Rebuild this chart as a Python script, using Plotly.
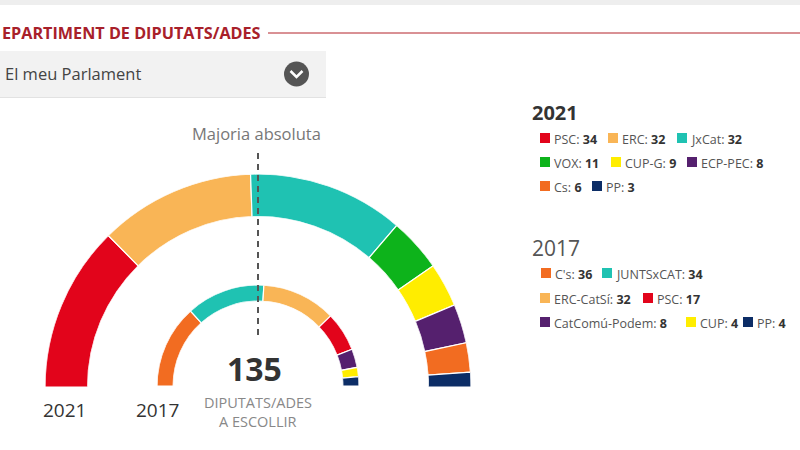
import plotly.graph_objects as go

# ---------------- data ----------------
parties_2021 = ["PSC", "ERC", "JxCat", "VOX", "CUP-G", "ECP-PEC", "Cs", "PP"]
seats_2021 = [34, 32, 32, 11, 9, 8, 6, 3]
colors_2021 = ["#e2041b", "#f9b556", "#1fc2b2", "#0db31b", "#ffed00", "#55206e", "#f26c21", "#0c2d66"]

parties_2017 = ["C's", "JUNTSxCAT", "ERC-CatSí", "PSC", "CatComú-Podem", "CUP", "PP"]
seats_2017 = [36, 34, 32, 17, 8, 4, 4]
colors_2017 = ["#f26c21", "#1fc2b2", "#f9b556", "#e2041b", "#55206e", "#ffed00", "#0c2d66"]

total_seats = 135
year_labels = ["2021", "2017"]

# ---------------- layout helpers ----------------
W, H = 800, 450
FONT = "Open Sans"


def px(x):
    return x / W


def py(y):
    return 1 - y / H


def ring(seats, colors, names, subplot):
    widths = [s * 180.0 / total_seats for s in seats]
    thetas = []
    acc = 0.0
    for w in widths:
        thetas.append(acc + w / 2)
        acc += w
    return go.Barpolar(
        r=[1] * len(seats), theta=thetas, width=widths,
        marker=dict(color=colors, line=dict(color="white", width=1.2)),
        text=names, hoverinfo="text", subplot=subplot, showlegend=False,
    )


fig = go.Figure()
fig.add_trace(ring(seats_2021, colors_2021, parties_2021, "polar"))
fig.add_trace(ring(seats_2017, colors_2017, parties_2017, "polar2"))

polar_common = dict(
    sector=[0, 180],
    bgcolor="rgba(0,0,0,0)",
    angularaxis=dict(visible=False, rotation=180, direction="clockwise"),
    radialaxis=dict(visible=False, range=[0, 1]),
)

# outer ring: centre (258,387), R=213 ; inner ring: centre (258,386), R=101
fig.update_layout(
    polar=dict(domain=dict(x=[px(45), px(471)], y=[py(387), py(174)]), hole=0.80, **polar_common),
    polar2=dict(domain=dict(x=[px(157), px(359)], y=[py(386), py(285)]), hole=0.84, **polar_common),
)

shapes = []
annotations = []

# top grey band
shapes.append(dict(type="rect", xref="paper", yref="paper", x0=0, x1=1, y0=py(5), y1=1,
                   fillcolor="#eeeeee", line=dict(width=0), layer="below"))
# header line
shapes.append(dict(type="line", xref="paper", yref="paper", x0=px(268), x1=1, y0=py(33), y1=py(33),
                   line=dict(color="#b3232b", width=1)))
annotations.append(dict(text="<b>EPARTIMENT DE DIPUTATS/ADES</b>", x=px(263), y=py(33), xref="paper", yref="paper",
                        xanchor="right", yanchor="middle", showarrow=False,
                        font=dict(family=FONT, size=16.2, color="#a8202a")))
# dropdown box
shapes.append(dict(type="rect", xref="paper", yref="paper", x0=0, x1=px(326), y0=py(97), y1=py(51),
                   fillcolor="#f2f2f2", line=dict(width=0), layer="below"))
shapes.append(dict(type="line", xref="paper", yref="paper", x0=0, x1=px(326), y0=py(97.5), y1=py(97.5),
                   line=dict(color="#e2e2e2", width=1)))
annotations.append(dict(text="El meu Parlament", x=px(3), y=py(74), xref="paper", yref="paper",
                        xanchor="left", yanchor="middle", showarrow=False,
                        font=dict(family=FONT, size=16.5, color="#444444")))
shapes.append(dict(type="circle", xref="paper", yref="paper", x0=px(284), x1=px(309), y0=py(86.5), y1=py(61.5),
                   fillcolor="#555555", line=dict(width=0)))
shapes.append(dict(type="path", xref="paper", yref="paper",
                   path=f"M {px(290.5)} {py(71)} L {px(296.5)} {py(77)} L {px(302.5)} {py(71)}",
                   line=dict(color="white", width=2.5)))

# majority line
shapes.append(dict(type="line", xref="paper", yref="paper", x0=px(258), x1=px(258), y0=py(335), y1=py(148),
                   line=dict(color="#555555", width=2, dash="6px,5px")))
annotations.append(dict(text="Majoria absoluta", x=px(256), y=py(134), xref="paper", yref="paper",
                        xanchor="center", yanchor="middle", showarrow=False,
                        font=dict(family=FONT, size=16.5, color="#777777")))

# centre texts
annotations.append(dict(text=f"<b>{total_seats}</b>", x=px(255), y=py(368), xref="paper", yref="paper",
                        xanchor="center", yanchor="middle", showarrow=False,
                        font=dict(family=FONT, size=32, color="#333333")))
annotations.append(dict(text="DIPUTATS/ADES", x=px(258), y=py(402), xref="paper", yref="paper",
                        xanchor="center", yanchor="middle", showarrow=False,
                        font=dict(family=FONT, size=14.5, color="#888888")))
annotations.append(dict(text="A ESCOLLIR", x=px(258), y=py(421), xref="paper", yref="paper",
                        xanchor="center", yanchor="middle", showarrow=False,
                        font=dict(family=FONT, size=14.5, color="#888888")))
for lbl, xc in zip(year_labels, [64, 157]):
    annotations.append(dict(text=lbl, x=px(xc), y=py(410), xref="paper", yref="paper",
                            xanchor="center", yanchor="middle", showarrow=False,
                            font=dict(family=FONT, size=19, color="#333333")))

# legends
annotations.append(dict(text="<b>2021</b>", x=px(530), y=py(113), xref="paper", yref="paper",
                        xanchor="left", yanchor="middle", showarrow=False,
                        font=dict(family=FONT, size=20, color="#333333")))
annotations.append(dict(text="2017", x=px(530), y=py(248), xref="paper", yref="paper",
                        xanchor="left", yanchor="middle", showarrow=False,
                        font=dict(family=FONT, size=21, color="#555555")))

legend_pos_2021 = [(540, 139), (608, 139), (677, 139), (540, 163), (611, 163), (687, 163), (540, 187), (592, 187)]
legend_pos_2017 = [(541, 274), (602, 274), (540, 299), (643, 299), (540, 323), (686, 323), (743, 323)]


def legend_items(names, seats, colors, positions):
    for n, s, c, (x, y) in zip(names, seats, colors, positions):
        shapes.append(dict(type="rect", xref="paper", yref="paper", x0=px(x), x1=px(x + 10),
                           y0=py(y + 4), y1=py(y - 6), fillcolor=c, line=dict(width=0)))
        annotations.append(dict(text=f"{n}: <b><span style='color:#333333'>{s}</span></b>",
                                x=px(x + 12), y=py(y), xref="paper", yref="paper",
                                xanchor="left", yanchor="middle", showarrow=False,
                                font=dict(family=FONT, size=12.5, color="#555555")))


legend_items(parties_2021, seats_2021, colors_2021, legend_pos_2021)
legend_items(parties_2017, seats_2017, colors_2017, legend_pos_2017)

fig.update_layout(
    width=W, height=H,
    margin=dict(l=0, r=0, t=0, b=0),
    paper_bgcolor="white", plot_bgcolor="white",
    shapes=shapes, annotations=annotations,
    showlegend=False,
)

fig.write_html("out.html", config={"displayModeBar": False},
               post_script="document.body.style.margin='0px';")
